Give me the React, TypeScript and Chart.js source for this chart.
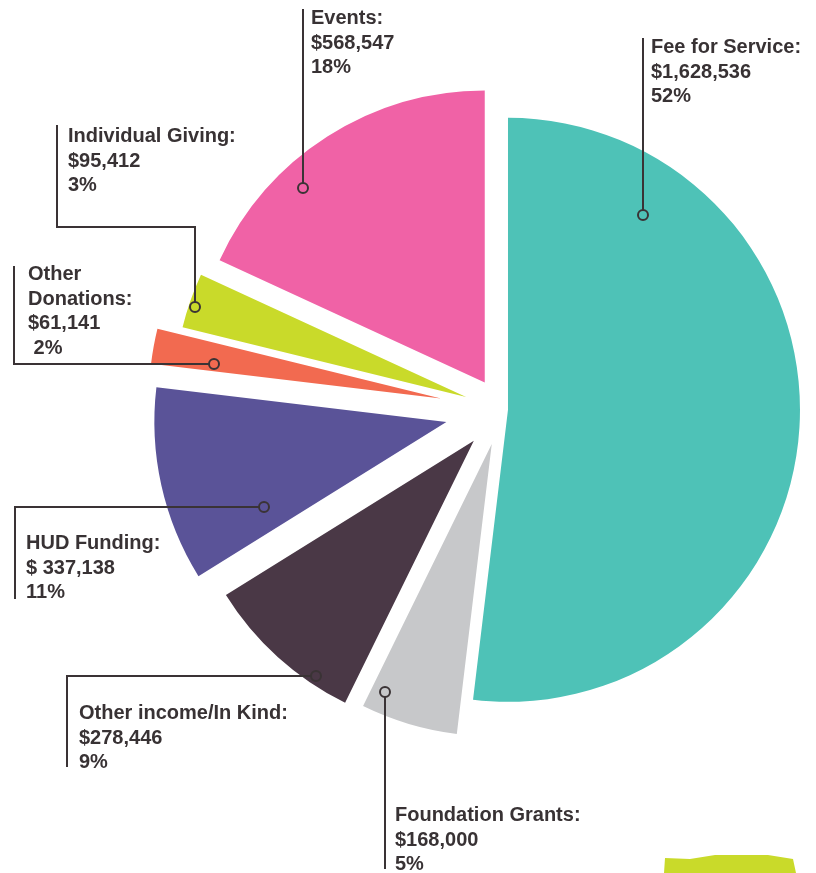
import React, { useEffect, useRef } from "react";
import { Chart, registerables } from "chart.js";

Chart.register(...registerables);

// ---- data ----
const CATEGORIES = [
  "Fee for Service",
  "Foundation Grants",
  "Other income/In Kind",
  "HUD Funding",
  "Other\nDonations",
  "Individual Giving",
  "Events",
];
const VALUES = [1628536, 168000, 278446, 337138, 61141, 95412, 568547];
const VALUE_LABELS = ["$1,628,536", "$168,000", "$278,446", "$ 337,138", "$61,141", "$95,412", "$568,547"];
const PERCENT_LABELS = ["52%", "5%", "9%", "11%", " 2%", "3%", "18%"];

// ---- style ----
const COLORS = ["#4ec2b7", "#c7c8ca", "#4a3846", "#5a5398", "#f26a50", "#c9da2a", "#f062a6"];
const EXPLODE = [6, 36, 42, 57, 62, 38, 32];
const TEXT_COLOR = "#383234";
const LINE_COLOR = "#3a3335";
const DOT_R = 5;
const LINE_H = 24.5;
const FONT = "bold 20px 'Liberation Sans', Arial, sans-serif";

type Pt = { x: number; y: number };
type Callout = { angle: number; dist: number; route: (a: Pt) => number[][]; text: number[] };

// callout layout: anchor given as angle (deg, clockwise from top) and distance from slice apex
const CALLOUTS: Callout[] = [
  { angle: 34.8, dist: 236.7, route: (a) => [[a.x, 38]], text: [651, 53] },
  { angle: 203.3, dist: 270.5, route: (a) => [[a.x, 869]], text: [395, 821] },
  { angle: 213.9, dist: 283, route: (a) => [[67, a.y], [67, 767]], text: [79, 719] },
  { angle: 245.1, dist: 201.1, route: (a) => [[15, a.y], [15, 599]], text: [26, 549] },
  { angle: 278.6, dist: 230, route: (a) => [[14, a.y], [14, 266]], text: [28, 280] },
  { angle: 288.3, dist: 285.5, route: (a) => [[a.x, 227], [57, 227], [57, 125]], text: [68, 142] },
  { angle: 317, dist: 266.6, route: (a) => [[a.x, 9]], text: [311, 24] },
];

const explodePlugin = {
  id: "explodeSlices",
  afterDatasetUpdate(chart: any, args: any) {
    const meta = chart.getDatasetMeta(args.index);
    meta.data.forEach((el: any, i: number) => {
      const mid = (el.startAngle + el.endAngle) / 2;
      el.x += Math.cos(mid) * EXPLODE[i];
      el.y += Math.sin(mid) * EXPLODE[i];
    });
  },
};

const calloutPlugin = {
  id: "callouts",
  afterDraw(chart: any) {
    const ctx = chart.ctx as CanvasRenderingContext2D;
    const meta = chart.getDatasetMeta(0);
    ctx.save();
    ctx.strokeStyle = LINE_COLOR;
    ctx.lineWidth = 2;
    ctx.fillStyle = TEXT_COLOR;
    ctx.font = FONT;
    ctx.textBaseline = "alphabetic";
    CALLOUTS.forEach((c, i) => {
      const el = meta.data[i];
      const th = (c.angle * Math.PI) / 180;
      const a = {
        x: Math.round(el.x + c.dist * Math.sin(th)),
        y: Math.round(el.y - c.dist * Math.cos(th)),
      };
      const pts = c.route(a);
      const dx = pts[0][0] - a.x;
      const dy = pts[0][1] - a.y;
      const len = Math.hypot(dx, dy) || 1;
      ctx.beginPath();
      ctx.moveTo(a.x + (dx / len) * DOT_R, a.y + (dy / len) * DOT_R);
      pts.forEach((p) => ctx.lineTo(p[0], p[1]));
      ctx.stroke();
      ctx.beginPath();
      ctx.arc(a.x, a.y, DOT_R, 0, Math.PI * 2);
      ctx.stroke();
      const lines = CATEGORIES[i].split("\n");
      lines[lines.length - 1] += ":";
      lines.push(VALUE_LABELS[i], PERCENT_LABELS[i]);
      lines.forEach((t, k) => ctx.fillText(t, c.text[0], c.text[1] + k * LINE_H));
    });
    ctx.restore();
  },
};

export default function App() {
  const ref = useRef<HTMLCanvasElement>(null);
  useEffect(() => {
    const chart = new Chart(ref.current as HTMLCanvasElement, {
      type: "pie",
      data: {
        labels: CATEGORIES,
        datasets: [
          {
            data: VALUES,
            backgroundColor: COLORS,
            borderWidth: 0,
            radius: 292,
          } as any,
        ],
      },
      options: {
        responsive: false,
        animation: false,
        events: [],
        layout: { padding: { left: 188, right: 0, top: 0, bottom: 54 } },
        plugins: { legend: { display: false }, tooltip: { enabled: false } },
      },
      plugins: [explodePlugin, calloutPlugin],
    });
    return () => chart.destroy();
  }, []);
  return (
    <div style={{ position: "absolute", left: 0, top: 0, width: 816, height: 873, background: "#fff", overflow: "hidden" }}>
      <canvas ref={ref} width={816} height={873} style={{ position: "absolute", left: 0, top: 0 }} />
      <div
        style={{
          position: "absolute",
          left: 664,
          top: 853,
          width: 132,
          height: 20,
          background: "#c9da2a",
          clipPath: "polygon(1px 5px, 26px 6px, 51px 2px, 104px 2px, 129px 6px, 132px 20px, 0px 20px)",
        }}
      />
    </div>
  );
}
